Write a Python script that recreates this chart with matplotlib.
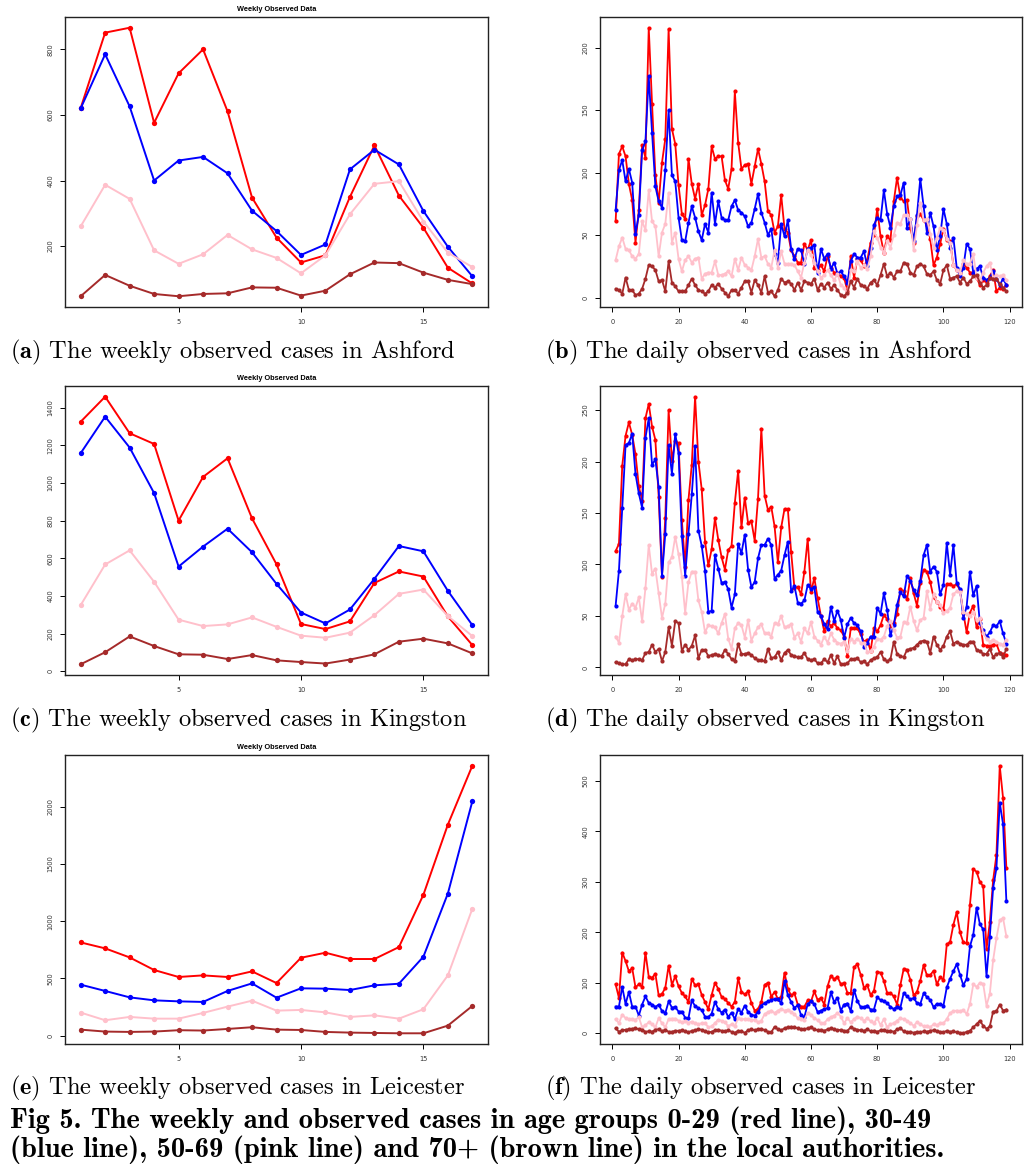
import matplotlib

matplotlib.use("Agg")
import matplotlib.pyplot as plt
from matplotlib.ticker import MultipleLocator
import numpy as np

# Observed case counts by age group (0-29, 30-49, 50-69, 70+).
WEEKS = np.arange(1, 18)
DAYS = np.arange(1, 120)

ASHFORD_WEEK_0_29 = [621, 851, 866, 576, 727, 800, 611, 348, 226, 150, 172, 350, 507, 354, 256, 134, 86]
ASHFORD_WEEK_30_49 = [620, 785, 626, 400, 461, 472, 422, 308, 246, 173, 205, 434, 494, 449, 307, 198, 108]
ASHFORD_WEEK_50_69 = [260, 387, 344, 187, 146, 175, 234, 190, 164, 117, 172, 297, 390, 398, 275, 180, 136]
ASHFORD_WEEK_70 = [47, 112, 79, 54, 47, 54, 56, 74, 73, 49, 64, 114, 150, 148, 119, 97, 84]

KINGSTON_WEEK_0_29 = [1325, 1458, 1264, 1207, 800, 1032, 1131, 812, 568, 251, 224, 265, 469, 530, 503, 291, 139]
KINGSTON_WEEK_30_49 = [1158, 1352, 1188, 946, 556, 662, 757, 632, 464, 312, 254, 328, 491, 665, 637, 427, 245]
KINGSTON_WEEK_50_69 = [351, 567, 642, 475, 274, 240, 249, 286, 236, 189, 178, 205, 298, 411, 434, 293, 187]
KINGSTON_WEEK_70 = [37, 101, 185, 134, 90, 88, 65, 86, 58, 49, 41, 62, 90, 157, 173, 148, 95]

LEICESTER_WEEK_0_29 = [814, 762, 683, 573, 512, 526, 512, 561, 459, 680, 724, 669, 669, 773, 1230, 1843, 2358]
LEICESTER_WEEK_30_49 = [445, 390, 334, 308, 299, 294, 390, 456, 331, 413, 410, 398, 439, 453, 689, 1241, 2047]
LEICESTER_WEEK_50_69 = [201, 134, 163, 148, 148, 198, 253, 305, 218, 224, 203, 163, 177, 148, 230, 526, 1108]
LEICESTER_WEEK_70 = [52, 35, 32, 35, 47, 44, 58, 73, 52, 49, 32, 26, 23, 20, 20, 87, 259]

ASHFORD_DAY_0_29 = [
    61, 115, 121, 113, 91, 78, 44, 70, 122, 112, 216, 155, 98, 76, 108, 127, 215, 135, 123, 90,
    67, 63, 111, 91, 79, 91, 66, 74, 87, 121, 111, 113, 113, 94, 87, 103, 165, 124, 103, 106,
    107, 91, 105, 119, 107, 93, 69, 66, 52, 57, 82, 55, 52, 38, 33, 28, 28, 43, 38, 46,
    24, 22, 26, 21, 33, 24, 20, 20, 17, 16, 5, 33, 16, 31, 30, 25, 30, 44, 50, 71,
    49, 36, 49, 46, 77, 96, 80, 77, 78, 56, 44, 65, 67, 62, 58, 47, 26, 32, 43, 55,
    46, 45, 26, 22, 20, 27, 24, 20, 20, 16, 10, 14, 12, 17, 22, 5, 8, 7, 10,
]
ASHFORD_DAY_30_49 = [
    70, 102, 110, 93, 103, 92, 51, 66, 118, 125, 177, 132, 89, 77, 72, 102, 150, 98, 93, 64,
    46, 45, 60, 73, 64, 53, 46, 59, 52, 84, 59, 77, 64, 62, 62, 73, 78, 70, 68, 65,
    57, 60, 71, 83, 68, 60, 50, 55, 35, 28, 59, 49, 62, 39, 31, 39, 38, 27, 39, 40,
    42, 20, 39, 31, 35, 23, 28, 19, 21, 17, 12, 29, 35, 32, 32, 37, 25, 40, 58, 64,
    62, 86, 67, 56, 73, 81, 82, 92, 56, 63, 45, 66, 95, 73, 52, 68, 57, 38, 49, 71,
    59, 40, 48, 24, 17, 24, 43, 39, 20, 23, 25, 16, 14, 16, 21, 15, 10, 15, 10,
]
ASHFORD_DAY_50_69 = [
    30, 41, 48, 39, 38, 33, 31, 35, 61, 54, 86, 61, 57, 33, 52, 59, 84, 44, 52, 31,
    21, 30, 33, 28, 31, 32, 15, 19, 20, 20, 29, 18, 18, 19, 21, 17, 31, 22, 32, 26,
    24, 22, 33, 47, 32, 33, 27, 24, 38, 24, 37, 27, 27, 27, 26, 21, 16, 28, 38, 34,
    28, 21, 16, 18, 22, 18, 14, 19, 10, 8, 3, 22, 21, 29, 24, 26, 23, 33, 53, 48,
    40, 36, 45, 40, 50, 60, 59, 66, 66, 63, 38, 58, 76, 62, 63, 51, 40, 48, 56, 54,
    47, 44, 26, 22, 20, 30, 27, 27, 35, 16, 14, 20, 25, 28, 16, 18, 17, 18, 14,
]
ASHFORD_DAY_70 = [
    7, 6, 3, 16, 6, 6, 2, 3, 7, 15, 26, 25, 22, 13, 14, 5, 29, 12, 9, 5,
    5, 5, 10, 15, 10, 6, 5, 3, 5, 10, 8, 11, 7, 4, 1, 6, 6, 3, 8, 13,
    13, 4, 14, 10, 4, 17, 4, 5, 1, 6, 15, 12, 13, 11, 6, 12, 6, 13, 12, 11,
    15, 6, 11, 8, 12, 7, 10, 6, 2, 1, 4, 13, 8, 15, 10, 9, 7, 12, 14, 10,
    18, 27, 17, 20, 16, 21, 21, 28, 27, 20, 18, 25, 27, 25, 19, 18, 21, 14, 11, 22,
    26, 15, 16, 17, 12, 16, 11, 13, 17, 18, 12, 8, 10, 16, 15, 15, 11, 8, 5,
]

KINGSTON_DAY_0_29 = [
    113, 120, 196, 225, 238, 226, 207, 176, 162, 242, 256, 234, 221, 166, 88, 145, 250, 201, 220, 218,
    143, 98, 163, 197, 263, 200, 173, 122, 99, 115, 145, 124, 107, 95, 114, 118, 160, 191, 136, 165,
    140, 142, 123, 164, 232, 167, 153, 156, 137, 102, 136, 154, 154, 112, 77, 78, 71, 93, 125, 73,
    87, 67, 50, 35, 45, 40, 43, 38, 36, 30, 11, 38, 38, 38, 32, 25, 27, 16, 38, 35,
    41, 51, 47, 40, 43, 52, 76, 74, 66, 87, 72, 60, 82, 95, 93, 83, 68, 64, 59, 56,
    81, 81, 79, 81, 75, 53, 34, 53, 60, 39, 47, 22, 21, 21, 22, 23, 14, 13, 12,
]
KINGSTON_DAY_30_49 = [
    60, 94, 155, 216, 218, 227, 188, 169, 155, 223, 242, 197, 202, 175, 89, 130, 216, 188, 227, 208,
    128, 89, 130, 168, 215, 133, 118, 94, 54, 55, 109, 96, 82, 83, 76, 58, 71, 120, 111, 129,
    95, 78, 83, 106, 119, 119, 125, 119, 86, 90, 94, 109, 122, 74, 79, 63, 62, 65, 80, 76,
    78, 54, 50, 42, 37, 59, 45, 55, 46, 29, 42, 48, 43, 41, 35, 20, 24, 30, 30, 58,
    52, 72, 56, 31, 41, 61, 73, 69, 89, 84, 75, 70, 84, 109, 119, 93, 98, 93, 71, 80,
    121, 90, 119, 82, 76, 48, 59, 93, 70, 79, 43, 36, 30, 34, 41, 40, 45, 33, 23,
]
KINGSTON_DAY_50_69 = [
    30, 24, 50, 71, 56, 62, 58, 68, 45, 77, 119, 91, 96, 72, 48, 62, 102, 107, 127, 110,
    88, 53, 83, 93, 93, 65, 54, 34, 41, 40, 39, 33, 43, 52, 28, 18, 38, 43, 41, 29,
    46, 26, 33, 39, 42, 33, 33, 30, 43, 42, 50, 39, 40, 42, 29, 33, 25, 38, 33, 44,
    30, 26, 22, 30, 24, 33, 27, 24, 23, 25, 16, 28, 25, 28, 24, 24, 15, 16, 20, 28,
    27, 30, 40, 45, 36, 29, 30, 44, 43, 59, 45, 36, 46, 48, 74, 57, 71, 64, 61, 53,
    55, 58, 71, 74, 73, 54, 52, 50, 54, 46, 48, 33, 28, 25, 27, 25, 23, 22, 27,
]
KINGSTON_DAY_70 = [
    5, 4, 3, 3, 8, 7, 8, 8, 7, 14, 15, 22, 15, 18, 6, 15, 39, 21, 45, 43,
    16, 22, 17, 21, 31, 9, 17, 17, 11, 12, 13, 12, 11, 17, 13, 8, 6, 23, 13, 13,
    14, 12, 9, 7, 7, 6, 18, 9, 10, 15, 7, 14, 17, 12, 11, 10, 10, 14, 8, 7,
    8, 4, 4, 8, 5, 12, 4, 11, 3, 3, 4, 8, 8, 9, 5, 6, 3, 7, 9, 10,
    15, 8, 6, 8, 25, 13, 11, 10, 17, 18, 19, 22, 25, 26, 25, 14, 30, 22, 17, 21,
    30, 35, 23, 25, 23, 22, 22, 25, 25, 17, 16, 13, 13, 18, 10, 13, 14, 10, 18,
]

LEICESTER_DAY_0_29 = [
    97, 70, 160, 143, 123, 129, 91, 97, 92, 160, 112, 110, 118, 75, 78, 90, 134, 96, 113, 93,
    80, 73, 62, 108, 95, 97, 76, 62, 48, 76, 100, 88, 72, 68, 60, 53, 62, 109, 82, 77,
    83, 60, 45, 48, 62, 96, 100, 72, 82, 68, 72, 120, 88, 75, 79, 57, 53, 53, 65, 63,
    83, 66, 70, 57, 93, 114, 107, 112, 97, 100, 80, 80, 131, 137, 116, 90, 95, 76, 84, 122,
    120, 104, 80, 80, 73, 57, 96, 128, 126, 106, 75, 82, 104, 135, 115, 115, 124, 97, 111, 106,
    176, 181, 215, 240, 200, 180, 178, 255, 325, 320, 300, 291, 166, 220, 303, 353, 530, 466, 328,
]
LEICESTER_DAY_30_49 = [
    53, 53, 92, 58, 82, 53, 53, 35, 57, 73, 60, 57, 52, 57, 44, 40, 63, 51, 52, 43,
    43, 31, 30, 65, 54, 50, 46, 33, 32, 39, 62, 48, 41, 47, 32, 41, 28, 48, 41, 55,
    42, 37, 35, 42, 55, 60, 63, 66, 68, 67, 60, 103, 76, 62, 50, 56, 36, 32, 58, 63,
    58, 42, 45, 48, 50, 81, 62, 70, 45, 57, 59, 44, 86, 64, 52, 52, 55, 47, 47, 71,
    66, 63, 60, 52, 48, 53, 51, 80, 73, 67, 70, 60, 58, 79, 72, 66, 52, 58, 58, 55,
    91, 108, 123, 137, 116, 95, 108, 172, 195, 249, 216, 206, 113, 191, 288, 327, 457, 414, 262,
]
LEICESTER_DAY_50_69 = [
    28, 20, 37, 30, 28, 28, 27, 32, 12, 16, 22, 18, 12, 30, 20, 12, 28, 29, 29, 25,
    22, 24, 21, 23, 20, 18, 20, 20, 12, 14, 20, 27, 25, 22, 14, 18, 14, 30, 28, 28,
    28, 26, 27, 22, 25, 38, 42, 45, 40, 45, 48, 45, 47, 42, 38, 30, 28, 27, 40, 36,
    30, 26, 20, 20, 28, 32, 35, 40, 33, 20, 30, 22, 28, 33, 30, 25, 30, 24, 20, 30,
    16, 28, 12, 18, 20, 25, 30, 28, 25, 20, 15, 22, 18, 14, 15, 12, 18, 16, 20, 20,
    28, 40, 44, 45, 44, 46, 38, 58, 97, 92, 100, 98, 55, 78, 145, 188, 224, 228, 192,
]
LEICESTER_DAY_70 = [
    10, 3, 6, 7, 8, 9, 10, 8, 7, 3, 4, 3, 7, 8, 4, 7, 3, 3, 5, 5,
    6, 4, 2, 5, 6, 8, 7, 4, 2, 3, 6, 7, 5, 4, 6, 3, 1, 5, 4, 1,
    6, 8, 6, 8, 9, 6, 3, 2, 13, 8, 6, 10, 12, 13, 12, 10, 8, 8, 10, 12,
    8, 6, 7, 5, 8, 10, 8, 6, 7, 5, 5, 12, 9, 7, 6, 5, 8, 4, 5, 3,
    6, 7, 4, 5, 3, 8, 10, 4, 2, 3, 1, 3, 2, 4, 3, 5, 6, 4, 3, 2,
    5, 3, 4, 2, 1, 0, 3, 5, 12, 18, 25, 15, 9, 14, 43, 44, 57, 45, 47,
]

AGE_COLOURS = ["#FF0000", "#0000FF", "#FFC0CB", "#A52A2A"]

CAPTIONS = [
    ("(a)", "The weekly observed cases in Ashford"),
    ("(b)", "The daily observed cases in Ashford"),
    ("(c)", "The weekly observed cases in Kingston"),
    ("(d)", "The daily observed cases in Kingston"),
    ("(e)", "The weekly observed cases in Leicester"),
    ("(f)", "The daily observed cases in Leicester"),
]
FIG_CAPTION = [
    "Fig 5. The weekly and observed cases in age groups 0-29 (red line), 30-49",
    "(blue line), 50-69 (pink line) and 70+ (brown line) in the local authorities.",
]

panels = [
    (WEEKS, [ASHFORD_WEEK_0_29, ASHFORD_WEEK_30_49, ASHFORD_WEEK_50_69, ASHFORD_WEEK_70], 200),
    (DAYS, [ASHFORD_DAY_0_29, ASHFORD_DAY_30_49, ASHFORD_DAY_50_69, ASHFORD_DAY_70], 50),
    (WEEKS, [KINGSTON_WEEK_0_29, KINGSTON_WEEK_30_49, KINGSTON_WEEK_50_69, KINGSTON_WEEK_70], 200),
    (DAYS, [KINGSTON_DAY_0_29, KINGSTON_DAY_30_49, KINGSTON_DAY_50_69, KINGSTON_DAY_70], 50),
    (WEEKS, [LEICESTER_WEEK_0_29, LEICESTER_WEEK_30_49, LEICESTER_WEEK_50_69, LEICESTER_WEEK_70], 500),
    (DAYS, [LEICESTER_DAY_0_29, LEICESTER_DAY_30_49, LEICESTER_DAY_50_69, LEICESTER_DAY_70], 100),
]

plt.rcParams["mathtext.fontset"] = "cm"

W, H = 1033, 1167
fig = plt.figure(figsize=(W / 100, H / 100), dpi=100)

col_x = [(65, 488), (600, 1022)]
row_y = [(17, 307), (386, 675), (755, 1044)]
caption_y = [352, 720, 1088]
caption_x = [10, 545]

for i, (x, series, ystep) in enumerate(panels):
    row, col = divmod(i, 2)
    x0, x1 = col_x[col]
    y0, y1 = row_y[row]
    ax = fig.add_axes([x0 / W, 1 - y1 / H, (x1 - x0) / W, (y1 - y0) / H])
    weekly = len(x) == len(WEEKS)
    lw, ms = (1.4, 3.8) if weekly else (1.3, 3.0)
    for values, colour in zip(series, AGE_COLOURS):
        ax.plot(x, values, "-o", color=colour, lw=lw, ms=ms, mew=0)
    ax.margins(x=0.04, y=0.04)
    ax.xaxis.set_major_locator(MultipleLocator(5 if weekly else 20))
    ax.yaxis.set_major_locator(MultipleLocator(ystep))
    ax.tick_params(direction="out", length=3.5, width=0.7, labelsize=4.8,
                   labelcolor="#333333", pad=5)
    for lab in ax.get_yticklabels():
        lab.set_rotation(90)
        lab.set_va("center")
    for s in ax.spines.values():
        s.set_linewidth(1.0)
        s.set_color("#222222")
    if weekly:
        ax.set_title("Weekly Observed Data", fontsize=5.3, fontweight="bold",
                     family="Liberation Sans", pad=4)

    tag, text = CAPTIONS[i]
    fig.text(caption_x[col] / W, 1 - caption_y[row] / H,
             r"$\mathbf{" + tag + "}$ " + text,
             family="cmr10", fontsize=17.6, va="center", ha="left")

# Two-line figure caption kept as one text block.
fig.text(10 / W, 1 - 1135 / H, "\n".join(FIG_CAPTION), family="cmb10",
         fontsize=20.5, linespacing=1.0, va="center", ha="left")

fig.savefig("out.png", dpi=100)
